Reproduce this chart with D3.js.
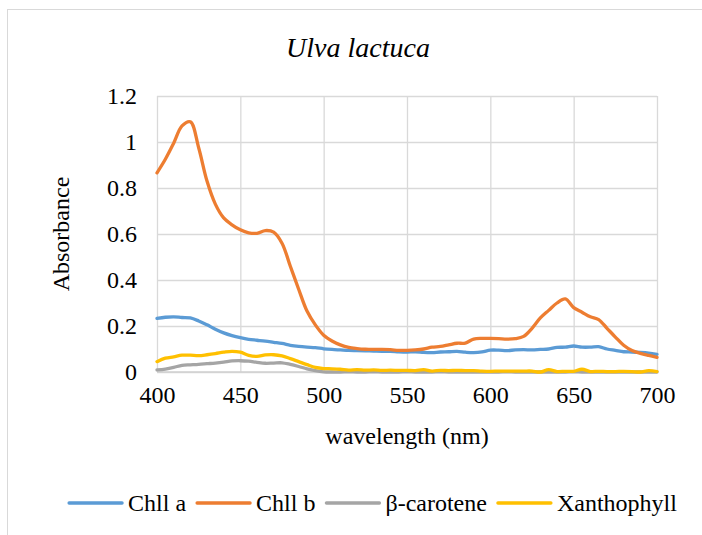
<!DOCTYPE html>
<html>
<head>
<meta charset="utf-8">
<script src="https://cdn.jsdelivr.net/npm/d3@7"></script>
<style>
  html, body { margin: 0; padding: 0; background: #fff; }
  svg { display: block; }
  svg text { font-family: 'Times New Roman' !important; }
</style>
</head>
<body>
<svg id="chart" width="702" height="535" font-family="Times New Roman"></svg>
<script>
// Absorption spectra of pigment extracts, sampled every 5 nm
const wavelengths = d3.range(400, 701, 5);

const chllA = [
  0.233, 0.238, 0.240, 0.237, 0.235, 0.222, 0.205, 0.186, 0.170, 0.158,
  0.149, 0.142, 0.138, 0.134, 0.129, 0.124, 0.116, 0.111, 0.108, 0.106,
  0.101, 0.098, 0.096, 0.094, 0.093, 0.092, 0.091, 0.090, 0.090, 0.088,
  0.087, 0.088, 0.085, 0.084, 0.087, 0.088, 0.090, 0.086, 0.084, 0.087,
  0.095, 0.095, 0.093, 0.096, 0.097, 0.096, 0.098, 0.100, 0.107, 0.108,
  0.113, 0.108, 0.108, 0.110, 0.100, 0.094, 0.088, 0.087, 0.085, 0.082,
  0.077
];

const chllB = [
  0.866, 0.925, 0.995, 1.070, 1.088, 0.975, 0.830, 0.730, 0.670, 0.640,
  0.618, 0.605, 0.603, 0.615, 0.608, 0.560, 0.460, 0.360, 0.265, 0.205,
  0.160, 0.135, 0.118, 0.107, 0.102, 0.099, 0.098, 0.098, 0.097, 0.094,
  0.094, 0.096, 0.100, 0.108, 0.111, 0.118, 0.125, 0.126, 0.143, 0.146,
  0.146, 0.145, 0.143, 0.145, 0.155, 0.190, 0.235, 0.268, 0.300, 0.318,
  0.280, 0.260, 0.240, 0.228, 0.190, 0.152, 0.116, 0.093, 0.081, 0.072,
  0.064
];

const betaCarotene = [
  0.009, 0.013, 0.020, 0.029, 0.031, 0.033, 0.036, 0.039, 0.043, 0.048,
  0.049, 0.047, 0.042, 0.038, 0.039, 0.040, 0.033, 0.024, 0.014, 0.006,
  0.001, 0.000, 0.000, 0.001, 0.000, 0.000, 0.001, 0.000, 0.000, 0.000,
  0.001, 0.000, 0.000, 0.000, 0.001, 0.000, 0.000, 0.000, 0.000, 0.000,
  0.000, 0.000, 0.001, 0.000, 0.000, 0.000, 0.000, 0.000, 0.000, 0.000,
  0.001, 0.000, 0.000, 0.000, 0.000, 0.000, 0.000, 0.000, 0.000, 0.000,
  0.000
];

const xanthophyll = [
  0.045, 0.060, 0.066, 0.073, 0.073, 0.071, 0.075, 0.080, 0.086, 0.090,
  0.086, 0.072, 0.068, 0.074, 0.075, 0.070, 0.058, 0.045, 0.032, 0.020,
  0.015, 0.014, 0.012, 0.008, 0.010, 0.008, 0.009, 0.007, 0.008, 0.007,
  0.007, 0.006, 0.010, 0.004, 0.007, 0.006, 0.007, 0.006, 0.006, 0.004,
  0.003, 0.004, 0.004, 0.004, 0.004, 0.004, 0.000, 0.010, 0.002, 0.003,
  0.003, 0.012, 0.002, 0.003, 0.002, 0.002, 0.003, 0.002, 0.000, 0.006,
  0.002
];

const seriesNames = ["Chll a", "Chll b", "β-carotene", "Xanthophyll"];
const seriesValues = [chllA, chllB, betaCarotene, xanthophyll];
const seriesColors = ["#5b9bd5", "#ed7d31", "#a5a5a5", "#ffc000"];

const xTicks = [400, 450, 500, 550, 600, 650, 700];
const yTicks = [0, 0.2, 0.4, 0.6, 0.8, 1, 1.2];

const FONT = "Times New Roman";

const svg = d3.select("#chart");

// chart area outline
svg.append("rect")
  .attr("x", 7.5).attr("y", 9.5)
  .attr("width", 720).attr("height", 560)
  .attr("fill", "none").attr("stroke", "#d9d9d9").attr("stroke-width", 1);

const plot = { left: 157, right: 657, top: 96, bottom: 372 };

const x = d3.scaleLinear().domain([400, 700]).range([plot.left, plot.right]);
const y = d3.scaleLinear().domain([0, 1.2]).range([plot.bottom, plot.top]);

// horizontal gridlines with y labels
const yAxis = svg.append("g")
  .attr("transform", `translate(${plot.left},0)`)
  .call(d3.axisLeft(y).tickValues(yTicks)
    .tickSize(-(plot.right - plot.left))
    .tickPadding(20)
    .tickFormat(d => String(d)));
yAxis.attr("font-family", FONT).attr("font-size", 24);
yAxis.select(".domain").remove();
yAxis.selectAll(".tick line").attr("stroke", "#d9d9d9").attr("stroke-width", 1.3);
yAxis.selectAll(".tick text").attr("fill", "#000");

// vertical gridlines with x labels
const xAxis = svg.append("g")
  .attr("transform", `translate(0,${plot.bottom})`)
  .call(d3.axisBottom(x).tickValues(xTicks)
    .tickSize(-(plot.bottom - plot.top))
    .tickPadding(14)
    .tickFormat(d3.format("d")));
xAxis.attr("font-family", FONT).attr("font-size", 24);
xAxis.select(".domain").remove();
xAxis.selectAll(".tick line").attr("stroke", "#d9d9d9").attr("stroke-width", 1.3);
xAxis.selectAll(".tick text").attr("fill", "#000");

// baseline at zero
svg.append("line")
  .attr("x1", plot.left).attr("x2", plot.right)
  .attr("y1", y(0)).attr("y2", y(0))
  .attr("stroke", "#d0d0d0").attr("stroke-width", 1.3);

// spectra
const line = d3.line()
  .x(d => x(d[0]))
  .y(d => y(d[1]))
  .curve(d3.curveCatmullRom.alpha(0.5));

seriesValues.forEach((vals, i) => {
  svg.append("path")
    .datum(wavelengths.map((w, j) => [w, vals[j]]))
    .attr("fill", "none")
    .attr("stroke", seriesColors[i])
    .attr("stroke-width", 3.3)
    .attr("stroke-linejoin", "round")
    .attr("stroke-linecap", "round")
    .attr("d", line);
});

// title
svg.append("text")
  .attr("x", 358).attr("y", 57)
  .attr("text-anchor", "middle")
  .attr("font-family", FONT)
  .attr("font-size", 28).attr("font-style", "italic")
  .text("Ulva lactuca");

// axis titles
svg.append("text")
  .attr("x", (plot.left + plot.right) / 2).attr("y", 444)
  .attr("text-anchor", "middle")
  .attr("font-family", FONT)
  .attr("font-size", 24)
  .text("wavelength (nm)");

svg.append("text")
  .attr("transform", `translate(69,${(plot.top + plot.bottom) / 2}) rotate(-90)`)
  .attr("text-anchor", "middle")
  .attr("font-family", FONT)
  .attr("font-size", 24)
  .text("Absorbance");

// legend
const legend = svg.append("g");
let lx = 0;
seriesNames.forEach((name, i) => {
  const g = legend.append("g").attr("transform", `translate(${lx},0)`);
  g.append("line")
    .attr("x1", 0).attr("x2", 53).attr("y1", 0).attr("y2", 0)
    .attr("stroke", seriesColors[i]).attr("stroke-width", 3.3)
    .attr("stroke-linecap", "round");
  const t = g.append("text")
    .attr("x", 59).attr("y", 8)
    .attr("font-family", FONT)
    .attr("font-size", 24)
    .text(name);
  lx += 59 + t.node().getComputedTextLength() + 11;
});
const legendWidth = lx - 11;
legend.attr("transform", `translate(${373 - legendWidth / 2},503)`);
</script>
</body>
</html>
